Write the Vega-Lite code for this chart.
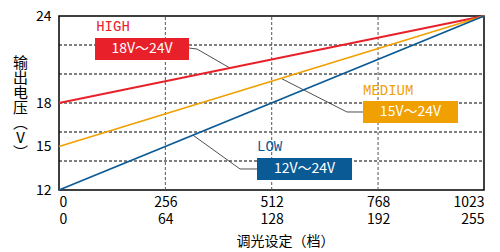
{
  "$schema": "https://vega.github.io/schema/vega-lite/v6.json",
  "width": 425,
  "height": 174,
  "autosize": {"type": "none"},
  "padding": {"left": 59, "top": 16, "right": 16, "bottom": 62},
  "background": "white",
  "config": {
    "font": "Noto Sans CJK SC",
    "view": {"stroke": "black", "strokeWidth": 1.5},
    "axis": {"labelFont": "Noto Sans CJK SC", "titleFont": "Noto Sans CJK SC", "labelColor": "black", "titleColor": "black", "titleFontWeight": "normal", "labelFontSize": 14, "titleFontSize": 14, "domain": false, "ticks": false, "grid": false}
  },
  "datasets": {
    "hgrid": [{"x": 0, "x2": 1023, "y": 14}, {"x": 0, "x2": 1023, "y": 16}, {"x": 0, "x2": 1023, "y": 18}, {"x": 0, "x2": 1023, "y": 20}, {"x": 0, "x2": 1023, "y": 22}],
    "vgrid": [{"x": 256, "y": 12, "y2": 24}, {"x": 512, "y": 12, "y2": 24}, {"x": 768, "y": 12, "y2": 24}],
    "lines": [
      {"series": "HIGH", "x": 0, "y": 18}, {"series": "HIGH", "x": 1023, "y": 24},
      {"series": "MEDIUM", "x": 0, "y": 15}, {"series": "MEDIUM", "x": 1023, "y": 24},
      {"series": "LOW", "x": 0, "y": 12}, {"series": "LOW", "x": 1023, "y": 24}
    ],
    "leaders": [
      {"series": "HIGH", "o": 1, "x": 312.9, "y": 21.79}, {"series": "HIGH", "o": 2, "x": 332.2, "y": 21.72}, {"series": "HIGH", "o": 3, "x": 411.6, "y": 20.41},
      {"series": "MEDIUM", "o": 1, "x": 731.7, "y": 17.38}, {"series": "MEDIUM", "o": 2, "x": 693.2, "y": 17.38}, {"series": "MEDIUM", "o": 3, "x": 534.4, "y": 19.7},
      {"series": "LOW", "o": 1, "x": 476.6, "y": 13.45}, {"series": "LOW", "o": 2, "x": 435.7, "y": 13.45}, {"series": "LOW", "o": 3, "x": 322.5, "y": 15.78}
    ],
    "boxes": [
      {"series": "HIGH", "range": "18V～24V", "x": 86.7, "x2": 312.9, "y": 22.48, "y2": 20.97, "tx": 199.8, "ty": 21.72, "lx": 89.5, "ly": 23.24},
      {"series": "MEDIUM", "range": "15V～24V", "x": 731.7, "x2": 960.4, "y": 18.14, "y2": 16.62, "tx": 846, "ty": 17.38, "lx": 731.7, "ly": 18.83},
      {"series": "LOW", "range": "12V～24V", "x": 476.6, "x2": 705.3, "y": 14.21, "y2": 12.69, "tx": 590.9, "ty": 13.45, "lx": 476.6, "ly": 14.97}
    ]
  },
  "encoding": {
    "x": {
      "field": "x", "type": "quantitative",
      "scale": {"domain": [0, 1023], "nice": false, "zero": false},
      "axis": {
        "values": [0, 256, 512, 768, 1023],
        "format": "d",
        "labelExpr": "[datum.label, '' + floor(datum.value / 4)]",
        "labelLineHeight": 17,
        "labelPadding": 5,
        "labelBaseline": "top",
        "title": "调光设定（档）",
        "titleX": 226,
        "titleY": 51,
        "titleBaseline": "middle",
        "titleAlign": "center"
      }
    },
    "y": {
      "field": "y", "type": "quantitative",
      "scale": {"domain": [12, 24], "nice": false, "zero": false},
      "axis": {
        "values": [12, 15, 18, 24],
        "labelPadding": 8,
        "title": ["输", "出", "电", "压", "︵", "V", "︶"],
        "titleFontSize": 15,
        "titleAngle": 0,
        "titleLineHeight": 15,
        "titleAlign": "center",
        "titleBaseline": "top",
        "titleX": -39,
        "titleY": 39
      }
    }
  },
  "layer": [
    {
      "data": {"name": "hgrid"},
      "mark": {"type": "rule", "color": "black", "strokeWidth": 1, "strokeDash": [3, 2]},
      "encoding": {"x2": {"field": "x2"}}
    },
    {
      "data": {"name": "vgrid"},
      "mark": {"type": "rule", "color": "#555555", "strokeWidth": 1, "strokeDash": [3, 2]},
      "encoding": {"y2": {"field": "y2"}}
    },
    {
      "data": {"name": "leaders"},
      "mark": {"type": "line", "color": "#222222", "strokeWidth": 0.8},
      "encoding": {"detail": {"field": "series"}, "order": {"field": "o"}}
    },
    {
      "data": {"name": "lines"},
      "mark": {"type": "line", "strokeWidth": 1.8},
      "encoding": {
        "color": {"field": "series", "type": "nominal", "scale": {"domain": ["HIGH", "MEDIUM", "LOW"], "range": ["#e8202a", "#f0a000", "#0a5a96"]}, "legend": null}
      }
    },
    {
      "data": {"name": "boxes"},
      "mark": {"type": "rect"},
      "encoding": {
        "x2": {"field": "x2"}, "y2": {"field": "y2"},
        "color": {"field": "series", "type": "nominal", "scale": {"domain": ["HIGH", "MEDIUM", "LOW"], "range": ["#e60020", "#ec9600", "#005588"]}, "legend": null}
      }
    },
    {
      "data": {"name": "boxes"},
      "mark": {"type": "text", "color": "white", "fontSize": 14, "align": "center", "baseline": "middle"},
      "encoding": {"x": {"field": "tx", "type": "quantitative"}, "y": {"field": "ty", "type": "quantitative"}, "text": {"field": "range"}}
    },
    {
      "data": {"name": "boxes"},
      "mark": {"type": "text", "font": "Liberation Mono", "fontSize": 14, "align": "left", "baseline": "middle"},
      "encoding": {
        "x": {"field": "lx", "type": "quantitative"}, "y": {"field": "ly", "type": "quantitative"},
        "text": {"field": "series"},
        "color": {"field": "series", "type": "nominal", "scale": {"domain": ["HIGH", "MEDIUM", "LOW"], "range": ["#e60020", "#ec9600", "#005588"]}, "legend": null}
      }
    }
  ]
}
